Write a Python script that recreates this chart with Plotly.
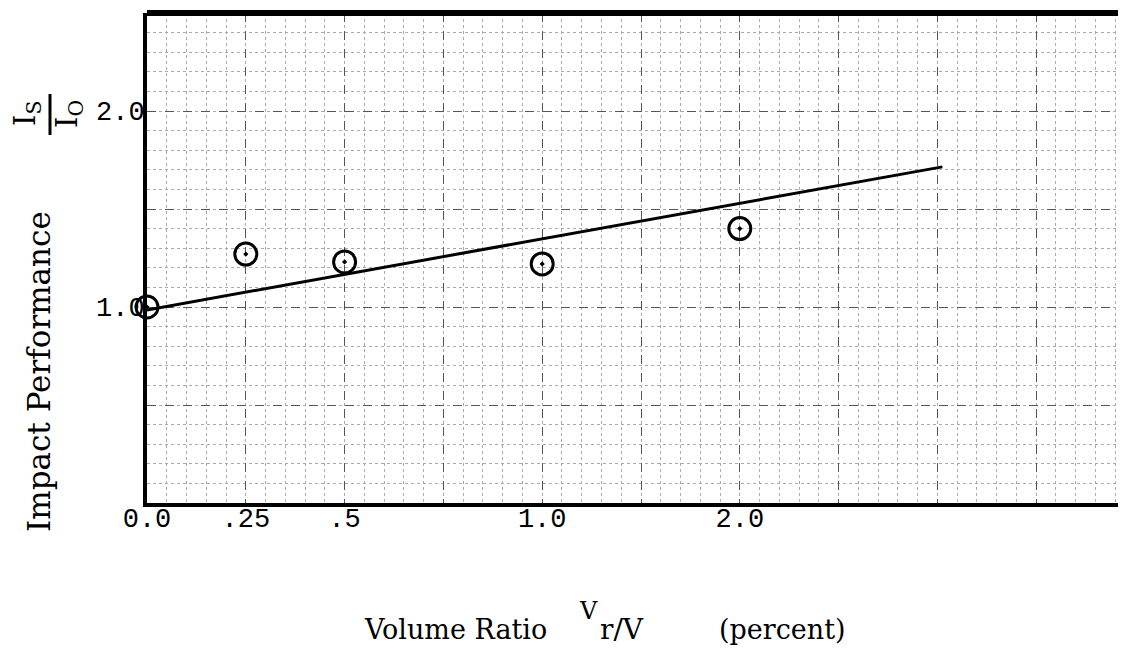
import plotly.graph_objects as go

# ---- data ----
axis_positions = [0, 1, 2, 3, 4, 5, 6, 7, 8, 9]
axis_labels = ["0.0", ".25", ".5", "", "1.0", "", "2.0", "", "", ""]
volume_ratio_pos = [0, 1, 2, 4, 6]          # plotted positions of 0.0, .25, .5, 1.0, 2.0
impact_perf = [1.00, 1.27, 1.23, 1.22, 1.40]
fit_pos = [0, 8.05]
fit_val = [0.985, 1.715]
y_ticks = [0, 0.5, 1.0, 1.5, 2.0, 2.5]
y_labels = ["", "", "1.0", "", "2.0", ""]

OFF = 8  # page body margin
W, H = 1126 - OFF, 648 - OFF
ML, MR, MT, MB = 139, 0, 5, 145
PW, PH = W - ML - MR, H - MT - MB
UNIT_X = 98.8


def px(x):  # screen pixel -> paper x
    return (x - OFF - ML) / PW


def py(y):  # screen pixel -> paper y
    return 1 - (y - OFF - MT) / PH


fig = go.Figure()
fig.add_trace(go.Scatter(x=fit_pos, y=fit_val, mode="lines",
                         line=dict(color="black", width=3), showlegend=False,
                         hoverinfo="skip"))
fig.add_trace(go.Scatter(x=volume_ratio_pos, y=impact_perf, mode="markers",
                         marker=dict(symbol="circle-open-dot", size=22, color="black",
                                     line=dict(width=3, color="black")),
                         showlegend=False, cliponaxis=False))

tick_font = dict(family="Liberation Mono", size=27, color="black")
fig.update_xaxes(range=[0, PW / UNIT_X], tickmode="array", tickvals=axis_positions,
                 ticktext=axis_labels, tickfont=tick_font, ticks="", showline=True,
                 linecolor="black", linewidth=4, zeroline=False, ticklabelstandoff=-12,
                 showgrid=True, gridcolor="#555", griddash="dash", gridwidth=1.2,
                 minor=dict(dtick=0.2, tick0=0, showgrid=True, gridcolor="#aaa",
                            griddash="dot", gridwidth=1))
fig.update_yaxes(range=[0, 2.5], tickmode="array", tickvals=y_ticks, ticktext=y_labels,
                 tickfont=tick_font, ticks="", showline=True, linecolor="black",
                 linewidth=4, zeroline=False, ticklabelstandoff=-7,
                 showgrid=True, gridcolor="#555", griddash="dash", gridwidth=1.2,
                 minor=dict(dtick=0.1, tick0=0, showgrid=True, gridcolor="#aaa",
                            griddash="dot", gridwidth=1))

# top border
fig.add_shape(type="line", xref="paper", yref="paper", x0=0, x1=1, y0=1, y1=1,
              line=dict(color="black", width=6))

serif = "DejaVu Serif"
ann = []
ann.append(dict(x=px(39), y=py(372), text="Impact Performance", textangle=-90,
                font=dict(family=serif, size=31, color="black")))
ann.append(dict(x=px(27), y=py(114), text="I<sub>S</sub>", textangle=-90,
                font=dict(family=serif, size=29, color="black")))
ann.append(dict(x=px(69), y=py(114), text="I<sub>O</sub>", textangle=-90,
                font=dict(family=serif, size=29, color="black")))
ann.append(dict(x=px(455), y=py(629), text="Volume Ratio",
                font=dict(family=serif, size=27, color="black")))
ann.append(dict(x=px(588), y=py(611), text="V",
                font=dict(family=serif, size=24, color="black")))
ann.append(dict(x=px(598), y=py(629), text="r/V", xanchor="left",
                font=dict(family=serif, size=28, color="black")))
ann.append(dict(x=px(782), y=py(629), text="(percent)",
                font=dict(family=serif, size=27, color="black")))
for a in ann:
    a.setdefault("xanchor", "center")
    a.update(xref="paper", yref="paper", showarrow=False, yanchor="middle")
fig.update_layout(annotations=ann)
fig.add_shape(type="line", xref="paper", yref="paper", x0=px(50), x1=px(50),
              y0=py(94), y1=py(135), line=dict(color="black", width=3))

fig.update_layout(width=W, height=H, margin=dict(l=ML, r=MR, t=MT, b=MB),
                  plot_bgcolor="white", paper_bgcolor="white")
fig.write_html("out.html")
